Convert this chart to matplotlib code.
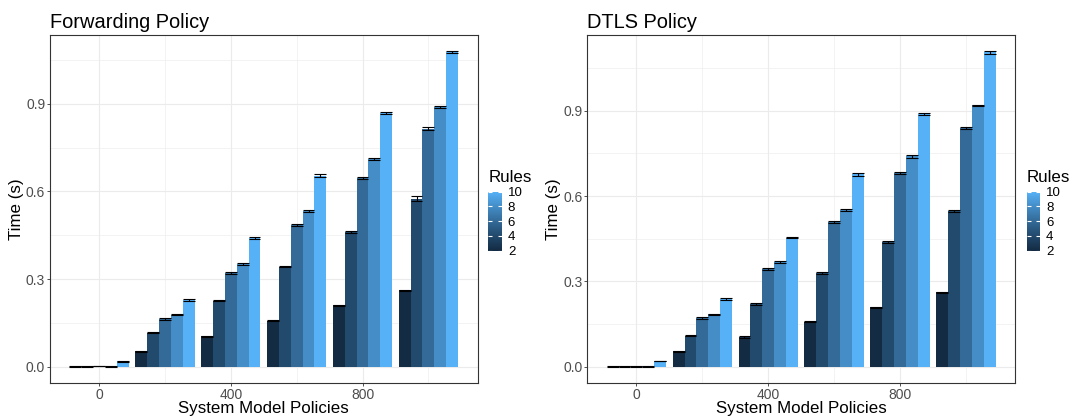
import numpy as np
import matplotlib
matplotlib.use("Agg")
import matplotlib.pyplot as plt
from matplotlib.colors import ListedColormap, Normalize
from matplotlib.cm import ScalarMappable

plt.rcParams['font.family'] = ['Liberation Sans', 'DejaVu Sans']

# ---------------- data ----------------
policies = [0, 200, 400, 600, 800, 1000]
rules = [2, 4, 6, 8, 10]

fwd_r2 = [0.001, 0.053, 0.104, 0.158, 0.211, 0.262]
fwd_r4 = [0.002, 0.117, 0.227, 0.343, 0.461, 0.575]
fwd_r6 = [0.003, 0.164, 0.322, 0.485, 0.646, 0.815]
fwd_r8 = [0.002, 0.178, 0.352, 0.534, 0.710, 0.890]
fwd_r10 = [0.019, 0.229, 0.441, 0.654, 0.869, 1.077]

fwd_e2 = [0.001, 0.002, 0.002, 0.002, 0.002, 0.002]
fwd_e4 = [0.001, 0.002, 0.002, 0.003, 0.003, 0.008]
fwd_e6 = [0.001, 0.002, 0.003, 0.003, 0.003, 0.004]
fwd_e8 = [0.001, 0.002, 0.002, 0.003, 0.004, 0.003]
fwd_e10 = [0.001, 0.003, 0.003, 0.005, 0.004, 0.004]

dtls_r2 = [0.001, 0.055, 0.105, 0.159, 0.210, 0.262]
dtls_r4 = [0.002, 0.110, 0.220, 0.330, 0.438, 0.548]
dtls_r6 = [0.002, 0.171, 0.344, 0.508, 0.680, 0.840]
dtls_r8 = [0.002, 0.184, 0.368, 0.552, 0.740, 0.918]
dtls_r10 = [0.020, 0.239, 0.454, 0.676, 0.889, 1.105]

dtls_e2 = [0.001, 0.002, 0.002, 0.002, 0.002, 0.002]
dtls_e4 = [0.001, 0.002, 0.003, 0.003, 0.003, 0.004]
dtls_e6 = [0.001, 0.003, 0.003, 0.003, 0.003, 0.003]
dtls_e8 = [0.001, 0.002, 0.003, 0.003, 0.005, 0.003]
dtls_e10 = [0.001, 0.004, 0.003, 0.004, 0.004, 0.005]

x_ticks = [0, 400, 800]
x_ticklabels = ["0", "400", "800"]
y_ticks = [0.0, 0.3, 0.6, 0.9]
y_ticklabels = ["0.0", "0.3", "0.6", "0.9"]

panels = [
    ("Forwarding Policy", [fwd_r2, fwd_r4, fwd_r6, fwd_r8, fwd_r10],
     [fwd_e2, fwd_e4, fwd_e6, fwd_e8, fwd_e10]),
    ("DTLS Policy", [dtls_r2, dtls_r4, dtls_r6, dtls_r8, dtls_r10],
     [dtls_e2, dtls_e4, dtls_e6, dtls_e8, dtls_e10]),
]

# ------------- ggplot-like Lab gradient -------------
def hex_to_rgb(h):
    h = h.lstrip('#')
    return np.array([int(h[i:i + 2], 16) / 255.0 for i in (0, 2, 4)])

def srgb_to_lin(c):
    return np.where(c <= 0.04045, c / 12.92, ((c + 0.055) / 1.055) ** 2.4)

def lin_to_srgb(c):
    c = np.clip(c, 0, 1)
    return np.where(c <= 0.0031308, 12.92 * c, 1.055 * c ** (1 / 2.4) - 0.055)

M = np.array([[0.4124564, 0.3575761, 0.1804375],
              [0.2126729, 0.7151522, 0.0721750],
              [0.0193339, 0.1191920, 0.9503041]])
Minv = np.linalg.inv(M)
WP = np.array([0.95047, 1.0, 1.08883])

def f(t):
    d = 6 / 29
    return np.where(t > d ** 3, np.cbrt(t), t / (3 * d * d) + 4 / 29)

def finv(t):
    d = 6 / 29
    return np.where(t > d, t ** 3, 3 * d * d * (t - 4 / 29))

def rgb_to_lab(rgb):
    xyz = M @ srgb_to_lin(rgb) / WP
    fx, fy, fz = f(xyz)
    return np.array([116 * fy - 16, 500 * (fx - fy), 200 * (fy - fz)])

def lab_to_rgb(lab):
    L, a, b = lab
    fy = (L + 16) / 116
    fx = fy + a / 500
    fz = fy - b / 200
    xyz = np.array([finv(fx), finv(fy), finv(fz)]) * WP
    return lin_to_srgb(Minv @ xyz)

lab_lo = rgb_to_lab(hex_to_rgb("#132B43"))
lab_hi = rgb_to_lab(hex_to_rgb("#56B1F7"))

def grad(t):
    return tuple(lab_to_rgb(lab_lo + (lab_hi - lab_lo) * t))

cmap = ListedColormap([grad(t) for t in np.linspace(0, 1, 300)])
norm = Normalize(min(rules), max(rules))

# ------------- figure -------------
W, H = 1070, 417
fig = plt.figure(figsize=(W / 100, H / 100), dpi=100)

ax_boxes = [(50, 477.5), (587.3, 1015)]
top_px, bot_px = 35, 382.7
leg_x = [488.3, 1026.5]

grid_col = "#EBEBEB"
bar_w = 36
n = len(rules)

for (title, vals, errs), (xl, xr), lx in zip(panels, ax_boxes, leg_x):
    ax = fig.add_axes([xl / W, 1 - bot_px / H, (xr - xl) / W, (bot_px - top_px) / H])
    ymax = 0
    for i, r in enumerate(rules):
        xs = np.array(policies) + (i - (n - 1) / 2) * bar_w
        v = np.array(vals[i])
        e = np.array(errs[i])
        ax.bar(xs, v, width=bar_w, color=cmap(norm(r)), zorder=3, linewidth=0)
        ax.vlines(xs, v - e, v + e, colors='black', linewidth=0.8, zorder=4)
        ax.hlines(v - e, xs - bar_w / 2, xs + bar_w / 2, colors='black', linewidth=0.8, zorder=4)
        ax.hlines(v + e, xs - bar_w / 2, xs + bar_w / 2, colors='black', linewidth=0.8, zorder=4)
        ymax = max(ymax, float(np.max(v + e)))
    # ggplot-like 5% expansion
    x0 = policies[0] - n * bar_w / 2
    x1 = policies[-1] + n * bar_w / 2
    dx = (x1 - x0) * 0.05
    ax.set_xlim(x0 - dx, x1 + dx)
    dy = ymax * 0.05
    ax.set_ylim(-dy, ymax + dy)

    ax.set_xticks(x_ticks)
    ax.set_xticklabels(x_ticklabels)
    ax.set_xticks([200, 600, 1000], minor=True)
    ax.set_yticks(y_ticks)
    ax.set_yticklabels(y_ticklabels)
    ax.set_yticks([0.15, 0.45, 0.75, 1.05], minor=True)
    ax.grid(True, which='major', color=grid_col, linewidth=0.8, zorder=0)
    ax.grid(True, which='minor', color=grid_col, linewidth=0.4, zorder=0)
    ax.set_axisbelow(True)
    ax.tick_params(which='major', length=2.0, width=0.6, color='#333333',
                   labelsize=10, labelcolor='#4D4D4D', pad=1.5)
    ax.tick_params(which='minor', length=0)
    for s in ax.spines.values():
        s.set_color('#333333')
        s.set_linewidth(0.8)

    ax.set_xlabel("System Model Policies", fontsize=12.2, color='black')
    ax.xaxis.set_label_coords(0.5, (bot_px - 413) / (bot_px - top_px))
    ax.xaxis.label.set_verticalalignment('baseline')
    ax.set_ylabel("Time (s)", fontsize=12.2, color='black')
    ax.yaxis.set_label_coords(-29.0 / (xr - xl), 0.5)
    ax.yaxis.label.set_verticalalignment('baseline')

    ax.text(0, 1 + (top_px - 27.7) / (bot_px - top_px), title, transform=ax.transAxes,
            fontsize=14.4, ha='left', va='baseline', color='black')

    # colour bar legend
    fig.text(lx / W, 1 - 181.7 / H, "Rules", fontsize=12.2, ha='left', va='baseline')
    cax = fig.add_axes([lx / W, 1 - 250.7 / H, 13.3 / W, 59 / H])
    cb = fig.colorbar(ScalarMappable(norm=norm, cmap=cmap), cax=cax, ticks=rules)
    cb.outline.set_visible(False)
    cax.tick_params(direction='in', color='white', length=2.6, width=0.8,
                    left=True, right=True, labelleft=False, labelright=True,
                    labelsize=9.5, labelcolor='black', pad=4.5)

fig.savefig("out.png", dpi=100)
